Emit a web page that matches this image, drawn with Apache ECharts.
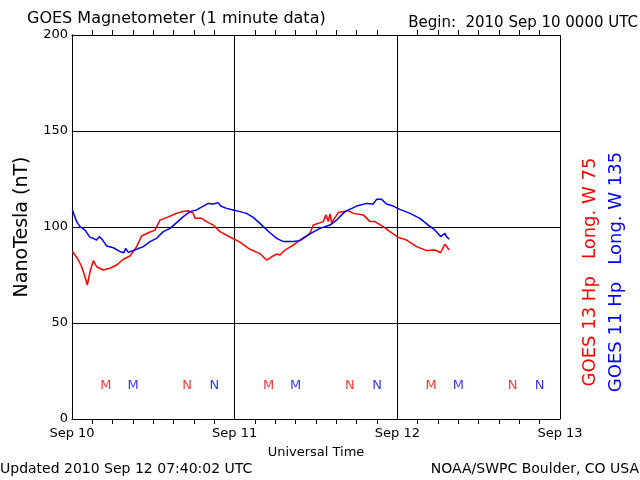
<!DOCTYPE html>
<html>
<head>
<meta charset="utf-8">
<script src="https://cdn.jsdelivr.net/npm/echarts@6/dist/echarts.min.js"></script>
<style>html,body{margin:0;padding:0;background:#fff}#c{width:640px;height:480px}</style>
</head>
<body>
<div id="c"></div>
<script>
// hours since 2010 Sep 10 00:00 UTC, value in nT
const goes13 = [
[0.05,87.2],[0.44,85.4],[0.93,82.8],[1.43,79.3],[1.92,74.1],[2.26,69.8],[2.66,76.7],[3.15,82.5],[3.64,79.3],
[4.62,77.6],[5.61,78.5],[6.59,80.2],[7.57,83.2],[8.56,84.9],[9.54,89.8],[10.28,95.3],[11.26,97.0],[12.24,98.4],
[12.98,103.6],[13.96,104.9],[15.19,106.8],[16.18,108.0],[17.16,108.5],[17.9,107.1],[18.14,104.5],[19.13,104.5],
[19.86,102.8],[20.84,101.0],[21.83,97.6],[23.3,94.8],[24.78,92.1],[26.26,88.4],[27.73,86.1],[28.71,82.8],
[29.45,84.5],[30.19,85.9],[30.68,85.4],[31.42,88.0],[32.64,90.6],[33.63,93.2],[35.1,96.7],[35.6,101.0],
[36.33,101.9],[37.07,102.8],[37.47,106.3],[37.81,102.8],[38.06,106.8],[38.3,102.3],[39.29,107.5],[40.76,108.5],
[41.5,107.1],[42.97,106.3],[43.96,102.8],[44.69,102.8],[45.92,100.2],[46.91,97.6],[48.14,94.6],[49.37,93.2],
[50.84,89.8],[52.32,87.7],[53.55,88.0],[54.38,86.6],[55.02,91.0],[55.26,90.6],[55.65,88.0]
];
const goes11 = [
[0.05,108.9],[0.69,102.8],[1.18,100.2],[1.92,98.4],[2.66,94.6],[3.15,94.1],[3.64,93.2],[4.03,95.0],[4.52,93.2],
[5.11,90.1],[6.10,89.2],[7.08,87.2],[7.67,86.6],[7.92,88.9],[8.31,86.8],[9.54,88.4],[10.52,89.8],[11.5,92.4],
[12.49,94.1],[13.47,97.6],[14.46,99.3],[15.44,102.3],[16.42,105.4],[17.4,108.0],[18.39,108.9],[19.37,110.9],
[20.1,112.3],[20.84,112.0],[21.58,112.7],[21.93,110.9],[22.81,109.7],[23.79,108.9],[24.78,108.0],[25.76,107.1],
[26.74,105.0],[27.73,101.9],[28.22,100.2],[29.2,97.0],[30.19,94.1],[31.17,92.4],[32.64,92.4],[33.63,92.9],
[35.1,96.4],[36.58,99.3],[38.06,101.0],[39.04,103.6],[40.27,108.0],[41.99,110.9],[43.46,112.3],[44.44,112.0],
[44.94,114.4],[45.68,114.4],[46.41,112.0],[47.39,110.9],[48.38,109.2],[49.86,107.1],[51.33,104.5],[52.56,101.0],
[53.55,98.4],[54.38,95.0],[55.02,96.7],[55.26,95.0],[55.65,93.6]
];
const markers13Hours = [5, 17, 29, 41, 53, 65];
const markers11Hours = [9, 21, 33, 45, 57, 69];
const markerText = ['M', 'N', 'M', 'N', 'M', 'N'];
const markerLevel = 17.2;
const dayLabels = ['Sep 10', 'Sep 11', 'Sep 12', 'Sep 13'];
const yTicks = [0, 50, 100, 150, 200];

const FONT = 'DejaVu Sans';
const RED = '#ff0000', BLUE = '#0000ff';
const chart = echarts.init(document.getElementById('c'));
function markerData(hours) {
  return hours.map((h, i) => ({ value: [h, markerLevel], name: markerText[i] }));
}
const xBase = {
  type: 'value', min: 0, max: 72, interval: 24,
  axisLine: { show: true, onZero: false, lineStyle: { color: '#000', width: 1 } },
  axisTick: { show: false },
  minorTick: { show: true, splitNumber: 8, length: 5, lineStyle: { color: '#000', width: 1 } },
  minorSplitLine: { show: false }
};
chart.setOption({
  animation: false,
  backgroundColor: '#fff',
  grid: { left: 72, top: 35, right: 80, bottom: 61, show: false },
  xAxis: [
    Object.assign({}, xBase, {
      position: 'bottom',
      name: 'Universal Time', nameLocation: 'middle', nameGap: 27,
      nameTextStyle: { fontFamily: FONT, fontSize: 13, color: '#000' },
      splitLine: { show: true, lineStyle: { color: '#000', width: 1 } },
      axisLabel: { fontFamily: FONT, fontSize: 13, color: '#000', margin: 8,
        formatter: v => dayLabels[Math.round(v / 24)] }
    }),
    Object.assign({}, xBase, {
      position: 'top',
      splitLine: { show: false },
      axisLabel: { show: false }
    })
  ],
  yAxis: [
    {
      type: 'value', min: 0, max: 200, interval: 50, position: 'left',
      name: 'NanoTesla (nT)', nameLocation: 'middle', nameGap: 40, nameRotate: 90,
      nameTextStyle: { fontFamily: FONT, fontSize: 19, color: '#000' },
      axisLine: { show: true, lineStyle: { color: '#000', width: 1 } },
      axisTick: { show: false },
      splitLine: { show: true, lineStyle: { color: '#000', width: 1 } },
      axisLabel: { fontFamily: FONT, fontSize: 13, color: '#000', margin: 4,
        formatter: v => (yTicks.indexOf(v) >= 0 ? String(v) : '') }
    },
    {
      type: 'value', min: 0, max: 200, interval: 50, position: 'right',
      axisLine: { show: true, lineStyle: { color: '#000', width: 1 } },
      axisTick: { show: false }, splitLine: { show: false }, axisLabel: { show: false }
    }
  ],
  series: [
    { type: 'line', name: 'GOES 13', data: goes13, showSymbol: false, symbol: 'none',
      lineStyle: { color: RED, width: 1.5 }, z: 3 },
    { type: 'line', name: 'GOES 11', data: goes11, showSymbol: false, symbol: 'none',
      lineStyle: { color: BLUE, width: 1.5 }, z: 3 },
    { type: 'scatter', data: markerData(markers13Hours), symbolSize: 0, silent: true,
      label: { show: true, position: 'inside', formatter: p => p.name, color: RED,
        fontFamily: FONT, fontSize: 13 } },
    { type: 'scatter', data: markerData(markers11Hours), symbolSize: 0, silent: true,
      label: { show: true, position: 'inside', formatter: p => p.name, color: BLUE,
        fontFamily: FONT, fontSize: 13 } }
  ],
  graphic: [
    { type: 'text', x: 27, y: 19, style: { text: 'GOES Magnetometer (1 minute data)',
      font: '16px "DejaVu Sans"', fill: '#000', verticalAlign: 'middle' } },
    { type: 'text', x: 638, y: 23, style: { text: 'Begin:  2010 Sep 10 0000 UTC',
      font: '15px "DejaVu Sans"', fill: '#000', align: 'right', verticalAlign: 'middle' } },
    { type: 'text', x: 0, y: 469, style: { text: 'Updated 2010 Sep 12 07:40:02 UTC',
      font: '14px "DejaVu Sans"', fill: '#000', verticalAlign: 'middle' } },
    { type: 'text', x: 639, y: 469, style: { text: 'NOAA/SWPC Boulder, CO USA',
      font: '14px "DejaVu Sans"', fill: '#000', align: 'right', verticalAlign: 'middle' } },
    { type: 'text', x: 590, y: 272, rotation: Math.PI / 2,
      style: { text: 'GOES 13 Hp   Long. W 75', font: '18px "DejaVu Sans"', fill: RED,
        align: 'center', verticalAlign: 'middle' } },
    { type: 'text', x: 616, y: 272, rotation: Math.PI / 2,
      style: { text: 'GOES 11 Hp   Long. W 135', font: '18px "DejaVu Sans"', fill: BLUE,
        align: 'center', verticalAlign: 'middle' } }
  ]
});
</script>
</body>
</html>
